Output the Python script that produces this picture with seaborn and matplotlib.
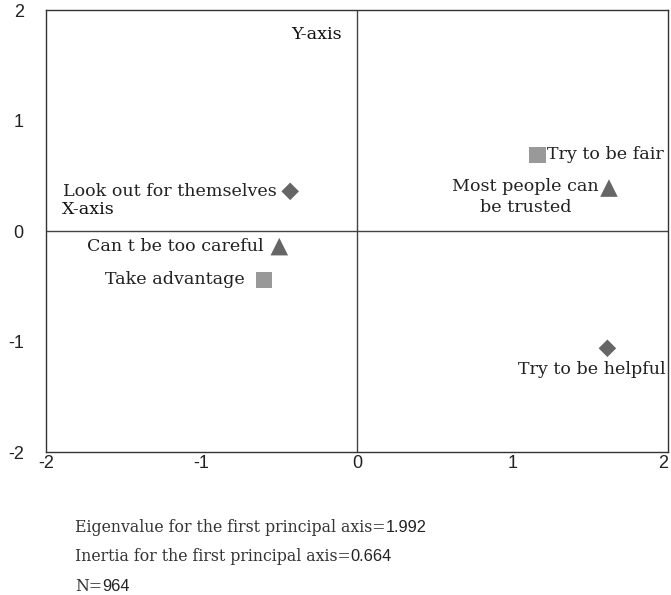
import numpy as np
import pandas as pd
import matplotlib
matplotlib.use("Agg")
import matplotlib.pyplot as plt
import seaborn as sns

# ----- data -----
labels = ["Look out for themselves", "Can t be too careful", "Take advantage",
          "Try to be fair", "Most people can\nbe trusted", "Try to be helpful"]
x_vals = [-0.43, -0.50, -0.60, 1.16, 1.62, 1.61]
y_vals = [0.36, -0.14, -0.44, 0.69, 0.39, -1.06]
shapes = ["diamond", "triangle", "square", "square", "triangle", "diamond"]
ticks = [-2, -1, 0, 1, 2]
note_texts = ["Eigenvalue for the first principal axis=",
              "Inertia for the first principal axis=",
              "N="]
note_values = ["1.992", "0.664", "964"]

df = pd.DataFrame({"x": x_vals, "y": y_vals, "shape": shapes, "label": labels})

sns.set_style("white")
plt.rcParams["font.family"] = ["DejaVu Serif"]

fig = plt.figure(figsize=(6.71, 5.95), dpi=100)
ax = fig.add_axes([0.0686, 0.240, 0.927, 0.743])

sns.scatterplot(data=df, x="x", y="y", hue="shape", style="shape", size="shape",
                markers={"diamond": "D", "triangle": "^", "square": "s"},
                palette={"diamond": "#666666", "triangle": "#666666", "square": "#999999"},
                sizes={"diamond": 80, "triangle": 160, "square": 140},
                linewidth=0, legend=False, ax=ax)

ax.axhline(0, color="#444444", lw=1, zorder=0)
ax.axvline(0, color="#444444", lw=1, zorder=0)
ax.set_xlim(-2, 2)
ax.set_ylim(-2, 2)
ax.set_xticks(ticks)
ax.set_yticks(ticks)
ax.set_xticklabels([str(t) for t in ticks], family="Liberation Sans", fontsize=13, color="#222222")
ax.set_yticklabels([str(t) for t in ticks], family="Liberation Sans", fontsize=13, color="#222222")
# last x label would be cut at the figure edge
ax.get_xticklabels()[-1].set_horizontalalignment("right")
ax.tick_params(length=0)
ax.tick_params(axis="x", pad=2)
ax.tick_params(axis="y", pad=16)
ax.set_xlabel("")
ax.set_ylabel("")
for sp in ax.spines.values():
    sp.set_color("#333333")
    sp.set_linewidth(1)

# point labels
fs = 12.6
tc = "#222222"
ax.annotate(labels[0], (x_vals[0], y_vals[0]), xytext=(-10, 0), textcoords="offset points",
            ha="right", va="center", fontsize=fs, color=tc)
ax.annotate(labels[1], (x_vals[1], y_vals[1]), xytext=(-11, 0), textcoords="offset points",
            ha="right", va="center", fontsize=fs, color=tc)
ax.annotate(labels[2], (x_vals[2], y_vals[2]), xytext=(-13.5, 0), textcoords="offset points",
            ha="right", va="center", fontsize=fs, color=tc)
ax.annotate(labels[3], (x_vals[3], y_vals[3]), xytext=(7, 0), textcoords="offset points",
            ha="left", va="center", fontsize=fs, color=tc)
ax.annotate(labels[4], (x_vals[4], y_vals[4]), xytext=(-60, -6.5), textcoords="offset points",
            ha="center", va="center", multialignment="center", fontsize=fs,
            color=tc, linespacing=1.27)
ax.annotate(labels[5], (x_vals[5], y_vals[5]), xytext=(-11, -15), textcoords="offset points",
            ha="center", va="center", fontsize=fs, color=tc)

ax.text(-1.9, 0.2, "X-axis", ha="left", va="center", fontsize=fs, color="#111111")
ax.text(-0.1, 1.78, "Y-axis", ha="right", va="center", fontsize=fs, color="#111111")

# notes under the chart: serif words, sans numbers
for i, (txt, val) in enumerate(zip(note_texts, note_values)):
    t = fig.text(0.112, 0.114 - i * 0.05, txt, ha="left", va="center", fontsize=11.3, color="#333333")
    ax.annotate(val, xy=(1, 0.5), xycoords=t, ha="left", va="center",
                family="Liberation Sans", fontsize=11.8, color="#222222", annotation_clip=False)

fig.savefig("out.png", dpi=100)
